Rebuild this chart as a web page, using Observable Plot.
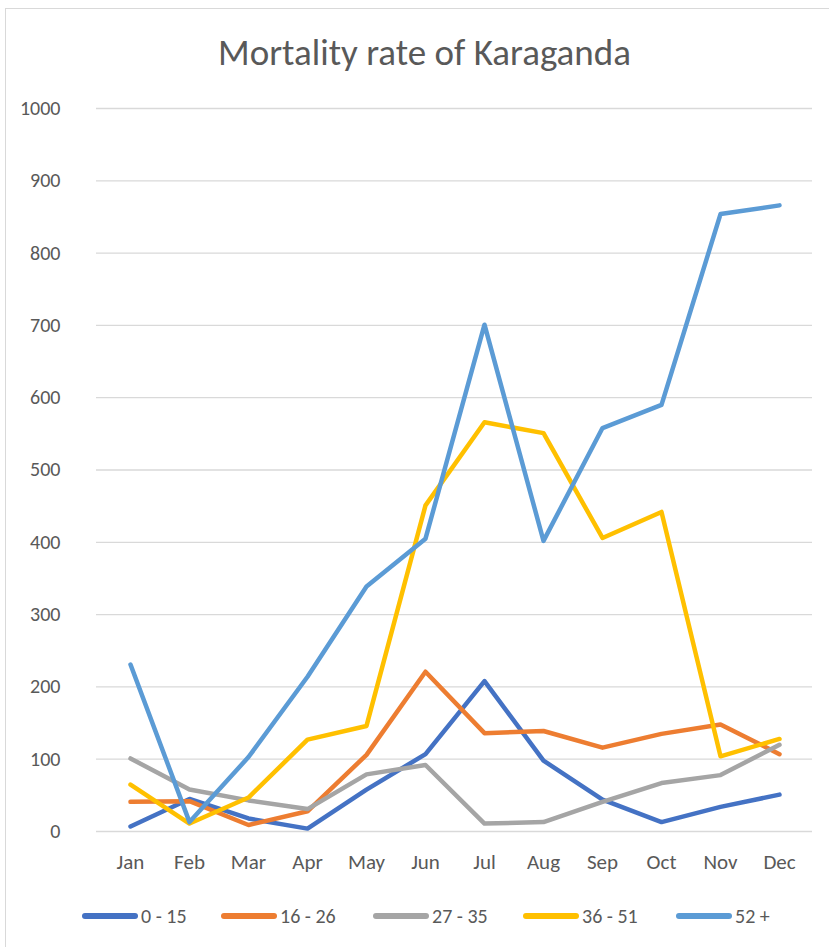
<!DOCTYPE html>
<html>
<head>
<meta charset="utf-8">
<script src="https://cdn.jsdelivr.net/npm/d3@7"></script>
<script src="https://cdn.jsdelivr.net/npm/@observablehq/plot@0.6"></script>
<style>
  html, body { margin: 0; padding: 0; background: #fff; }
  body { width: 829px; height: 947px; overflow: hidden; position: relative; font-family: Carlito, Calibri, Lato, "Liberation Sans", sans-serif; }
  #frame { position: absolute; left: 5px; top: 8px; width: 840px; height: 960px; border: 1px solid #d9d9d9; box-sizing: border-box; }
  #title { position: absolute; left: 10px; width: 829px; top: 30px; text-align: center; font-size: 37px; color: #595959; }
  #chart { position: absolute; left: 0; top: 0; }
  #legend { position: absolute; top: 903px; left: 0; width: 829px; height: 26px; font-size: 20px; color: #595959; }
  .item { position: absolute; top: 0; height: 26px; display: flex; align-items: center; white-space: nowrap; }
  .sw { width: 56px; height: 6px; border-radius: 3px; margin-right: 3px; }
</style>
</head>
<body>
<div id="frame"></div>
<div id="chart"></div>
<div id="title">Mortality rate of Karaganda</div>
<div id="legend"></div>
<script>
const months = ["Jan","Feb","Mar","Apr","May","Jun","Jul","Aug","Sep","Oct","Nov","Dec"];
const seriesNames = ["0 - 15","16 - 26","27 - 35","36 - 51","52 +"];
const seriesColors = ["#4472C4","#ED7D31","#A5A5A5","#FFC000","#5B9BD5"];
const age0_15  = [7, 45, 18, 4, 58, 107, 208, 98, 44, 13, 34, 51];
const age16_26 = [41, 42, 9, 28, 106, 221, 136, 139, 116, 135, 148, 107];
const age27_35 = [101, 58, 43, 31, 79, 92, 11, 13, 41, 67, 78, 120];
const age36_51 = [65, 11, 47, 127, 146, 451, 566, 551, 406, 442, 104, 128];
const age52    = [231, 13, 103, 214, 339, 405, 701, 402, 558, 590, 854, 866];
const yTicks = [0,100,200,300,400,500,600,700,800,900,1000];
const legendX = [82, 221, 373, 523, 676];

const allSeries = [age0_15, age16_26, age27_35, age36_51, age52];
const data = [];
allSeries.forEach((vals, si) => {
  vals.forEach((v, i) => data.push({series: seriesNames[si], month: months[i], value: v}));
});

const chart = Plot.plot({
  width: 829,
  height: 880,
  marginTop: 108,
  marginBottom: 49,
  marginLeft: 96,
  marginRight: 17,
  style: {fontFamily: "Carlito, Calibri, Lato, 'Liberation Sans', sans-serif", background: "transparent"},
  x: {type: "point", domain: months, padding: 0.5},
  y: {domain: [0, 1000]},
  color: {domain: seriesNames, range: seriesColors},
  marks: [
    Plot.gridY(yTicks, {stroke: "#d9d9d9", strokeOpacity: 1, strokeWidth: 1.3}),
    Plot.axisY(yTicks, {tickSize: 0, tickPadding: 36, fontSize: 20, fill: "#595959", label: null, tickFormat: d => String(d)}),
    Plot.axisX(months, {tickSize: 0, tickPadding: 23, fontSize: 21, fill: "#595959", label: null}),
    Plot.lineY(data, {x: "month", y: "value", z: "series", stroke: "series", strokeWidth: 4.5, strokeLinejoin: "round", strokeLinecap: "round"})
  ]
});
document.getElementById("chart").appendChild(chart);

const legend = document.getElementById("legend");
seriesNames.forEach((name, i) => {
  const item = document.createElement("div");
  item.className = "item";
  item.style.left = legendX[i] + "px";
  const sw = document.createElement("div");
  sw.className = "sw";
  sw.style.background = seriesColors[i];
  const label = document.createElement("span");
  label.textContent = name;
  item.appendChild(sw);
  item.appendChild(label);
  legend.appendChild(item);
});
</script>
</body>
</html>
